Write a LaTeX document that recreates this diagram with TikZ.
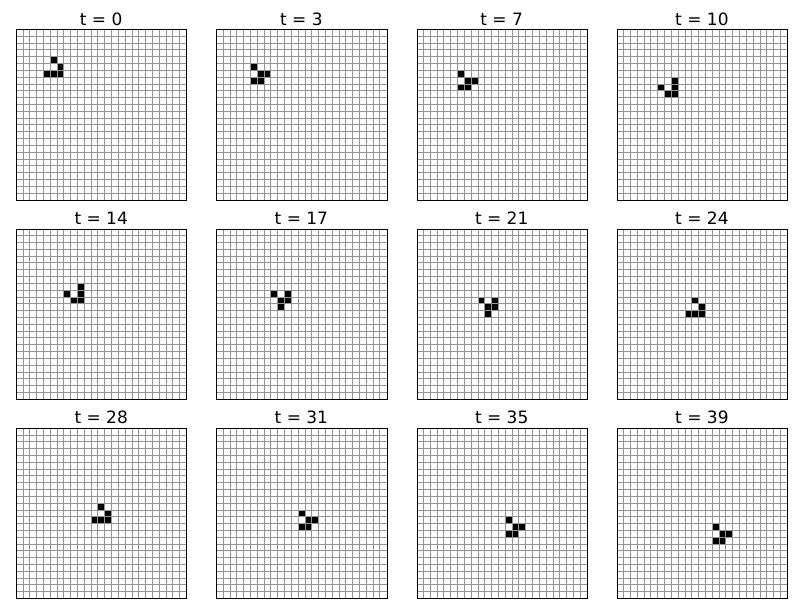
\documentclass[tikz,border=0pt]{standalone}
\usepackage{fontspec}
\setmainfont{DejaVu Sans}
\tikzset{
  gridline/.style={draw=black!42, line width=0.6pt},
  frame/.style={draw=black, line width=0.9pt, minimum width=170.4pt, minimum height=170.4pt, inner sep=0pt, anchor=north west},
  ttl/.style={font=\fontsize{17}{19}\selectfont, anchor=base, inner sep=0pt},
  live/.style={fill=black}
}
\newcommand\lifepanel[5]{%
  \begin{scope}[shift={(#2,#3)}]
    \foreach \r/\c in {#5} \fill[live] (\c*6.816,\r*6.816) rectangle ++(6.816,6.816);
    \foreach \i in {1,...,24} {
      \draw[gridline] (\i*6.816,0) -- (\i*6.816,170.4);
      \draw[gridline] (0,\i*6.816) -- (170.4,\i*6.816);
    }
    \node[frame] (p#1) at (0,0) {};
    \node[ttl] (t#1) at (85.2,-4.3) {t = #1};
  \end{scope}}
\begin{document}
\begin{tikzpicture}[x=1pt,y=-1pt]
\useasboundingbox (0,0) rectangle (800,600);
\lifepanel{0}{16}{29.3}{}{4/5,5/6,6/4,6/5,6/6}
\lifepanel{3}{216.2}{29.3}{}{5/5,6/6,6/7,7/5,7/6}
\lifepanel{7}{416.5}{29.3}{}{6/6,7/7,7/8,8/6,8/7}
\lifepanel{10}{616.7}{29.3}{}{7/8,8/6,8/8,9/7,9/8}
\lifepanel{14}{16}{228.7}{}{8/9,9/7,9/9,10/8,10/9}
\lifepanel{17}{216.2}{228.7}{}{9/8,9/10,10/9,10/10,11/9}
\lifepanel{21}{416.5}{228.7}{}{10/9,10/11,11/10,11/11,12/10}
\lifepanel{24}{616.7}{228.7}{}{10/11,11/12,12/10,12/11,12/12}
\lifepanel{28}{16}{428}{}{11/12,12/13,13/11,13/12,13/13}
\lifepanel{31}{216.2}{428}{}{12/12,13/13,13/14,14/12,14/13}
\lifepanel{35}{416.5}{428}{}{13/13,14/14,14/15,15/13,15/14}
\lifepanel{39}{616.7}{428}{}{14/14,15/15,15/16,16/14,16/15}
\end{tikzpicture}
\end{document}
